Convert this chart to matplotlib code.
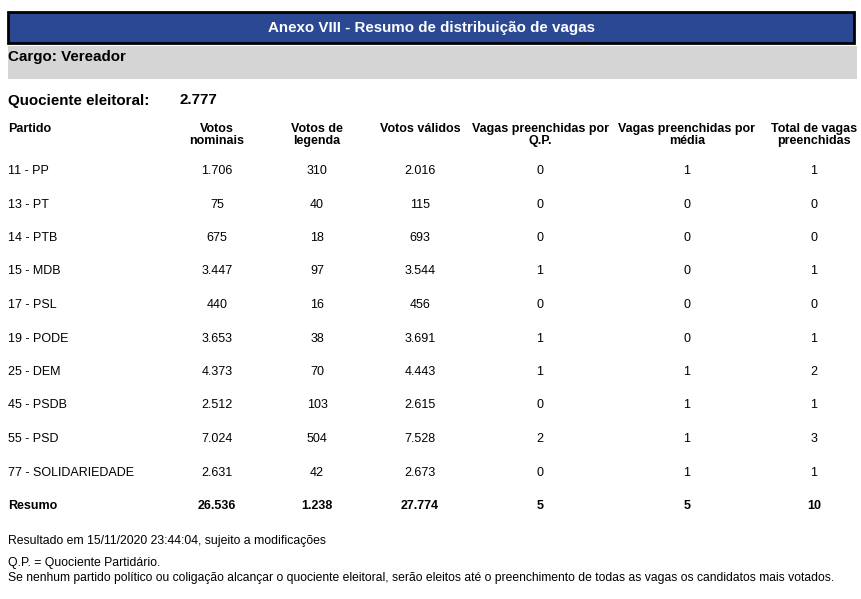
import matplotlib.pyplot as plt
from matplotlib.patches import Rectangle

plt.rcParams['font.family'] = ['Liberation Sans', 'DejaVu Sans']

# ========== dados ==========
partidos = ['11 - PP', '13 - PT', '14 - PTB', '15 - MDB', '17 - PSL', '19 - PODE',
            '25 - DEM', '45 - PSDB', '55 - PSD', '77 - SOLIDARIEDADE']
votos_nominais = ['1.706', '75', '675', '3.447', '440', '3.653', '4.373', '2.512', '7.024', '2.631']
votos_legenda = ['310', '40', '18', '97', '16', '38', '70', '103', '504', '42']
votos_validos = ['2.016', '115', '693', '3.544', '456', '3.691', '4.443', '2.615', '7.528', '2.673']
vagas_qp = [0, 0, 0, 1, 0, 1, 1, 0, 2, 0]
vagas_media = [1, 0, 0, 0, 0, 0, 1, 1, 1, 1]
vagas_total = [1, 0, 0, 1, 0, 1, 2, 1, 3, 1]
resumo = ['26.536', '1.238', '27.774', '5', '5', '10']

cabecalhos = ['Votos\nnominais', 'Votos de\nlegenda', 'Votos válidos',
              'Vagas preenchidas por\nQ.P.', 'Vagas preenchidas por\nmédia',
              'Total de vagas\npreenchidas']
quociente = '2.777'

# ========== figura em coordenadas de pixel ==========
fig = plt.figure(figsize=(8.61, 5.99), dpi=100)
ax = fig.add_axes([0, 0, 1, 1])
ax.set_xlim(0, 861)
ax.set_ylim(599, 0)
ax.axis('off')

# faixa azul do título
ax.add_patch(Rectangle((8, 12), 846, 31, facecolor='#2B4893', edgecolor='black', linewidth=2))
ax.text(432, 28, 'Anexo VIII - Resumo de distribuição de vagas', color='white',
        fontsize=10.9, fontweight='bold', ha='center', va='center')

# faixa cinza do cargo
ax.add_patch(Rectangle((8, 46), 849, 33, facecolor='#D6D5D6', edgecolor='none'))
ax.text(8, 57.5, 'Cargo: Vereador', fontsize=10.9, fontweight='bold', ha='left', va='center')

ax.text(8, 100.5, 'Quociente eleitoral:', fontsize=10.9, fontweight='bold', ha='left', va='center')
ax.text(180, 100.5, quociente, fontsize=10.9, fontweight='bold', ha='left', va='center')

# cabeçalho da tabela
col_x = [217, 317, 420, 540, 687, 814]
fs = 9
ax.text(8, 128.5, 'Partido', fontsize=fs, fontweight='bold', ha='left', va='center')
for cx, cab in zip(col_x, cabecalhos):
    ax.text(cx, 123, cab, fontsize=fs, fontweight='bold', ha='center', va='top',
            linespacing=1.05)

# linhas da tabela
row_y0, row_dy = 171, 33.5
colunas = [votos_nominais, votos_legenda, votos_validos, vagas_qp, vagas_media, vagas_total]
for i, partido in enumerate(partidos):
    y = row_y0 + i * row_dy
    ax.text(8, y, partido, fontsize=fs, ha='left', va='center')
    for cx, col in zip(col_x, colunas):
        ax.text(cx, y, str(col[i]), fontsize=fs, ha='center', va='center')

y = row_y0 + len(partidos) * row_dy
ax.text(8, y, 'Resumo', fontsize=fs, fontweight='bold', ha='left', va='center')
for cx, v in zip(col_x, resumo):
    ax.text(cx, y, v, fontsize=fs, fontweight='bold', ha='center', va='center')

# rodapé
ax.text(8, 541, 'Resultado em 15/11/2020 23:44:04, sujeito a modificações',
        fontsize=8.8, ha='left', va='center')
ax.text(8, 563, 'Q.P. = Quociente Partidário.', fontsize=8.8, ha='left', va='center')
ax.text(8, 578, 'Se nenhum partido político ou coligação alcançar o quociente eleitoral, '
        'serão eleitos até o preenchimento de todas as vagas os candidatos mais votados.',
        fontsize=8.7, ha='left', va='center')

plt.savefig('out.png', dpi=100)
plt.close()
